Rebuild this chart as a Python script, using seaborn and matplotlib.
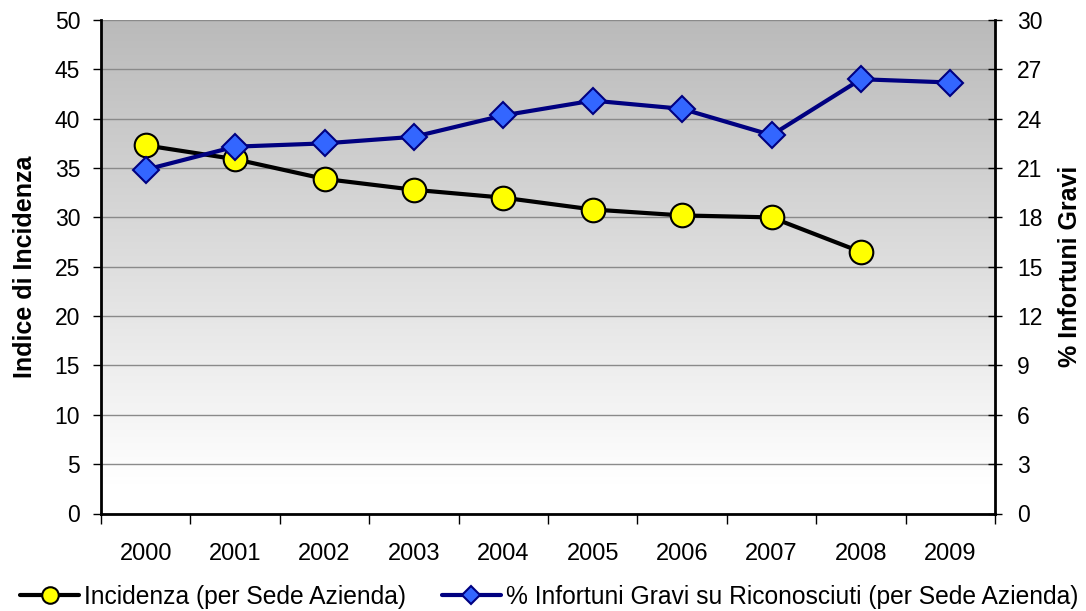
import numpy as np
import pandas as pd
import matplotlib
matplotlib.use("Agg")
import matplotlib.pyplot as plt
import seaborn as sns
from matplotlib.ticker import MultipleLocator, FixedLocator

# ---- data ----
years = [2000, 2001, 2002, 2003, 2004, 2005, 2006, 2007, 2008, 2009]
inc_years = [2000, 2001, 2002, 2003, 2004, 2005, 2006, 2007, 2008]
incidenza = [37.3, 35.9, 33.9, 32.8, 32.0, 30.8, 30.2, 30.0, 26.5]
perc_gravi = [20.9, 22.3, 22.5, 22.9, 24.2, 25.1, 24.6, 23.0, 26.4, 26.2]

label_inc = "Incidenza (per Sede Azienda)"
label_gravi = "% Infortuni Gravi su Riconosciuti (per Sede Azienda)"
ylabel_left = "Indice di Incidenza"
ylabel_right = "% Infortuni Gravi"

df_inc = pd.DataFrame({"anno": inc_years, "valore": incidenza})
df_gravi = pd.DataFrame({"anno": years, "valore": perc_gravi})

sns.set_theme(style="white")
plt.rcParams["font.family"] = ["Liberation Sans", "DejaVu Sans"]
plt.rcParams.update({"text.color": "black", "axes.labelcolor": "black",
                     "xtick.color": "black", "ytick.color": "black",
                     "xtick.labelcolor": "black", "ytick.labelcolor": "black"})

fig = plt.figure(figsize=(10.86, 6.11), dpi=100)
ax = fig.add_axes([101 / 1086, 1 - 513.5 / 611, (995 - 101) / 1086, (513.5 - 20) / 611])
ax2 = ax.twinx()

# gradient background
grad = np.linspace(0, 1, 256).reshape(-1, 1)
cmap = matplotlib.colors.LinearSegmentedColormap.from_list(
    "g", [(0.0, "#ffffff"), (0.06, "#ffffff"), (1.0, "#bababa")], N=256)
ax.imshow(grad, cmap=cmap, extent=[0, 1, 0, 1], transform=ax.transAxes,
          aspect="auto", zorder=0, origin="lower")

ax.set_xlim(1999.5, 2009.5)
ax.set_ylim(0, 50)
ax2.set_ylim(0, 30)

ax.yaxis.set_major_locator(MultipleLocator(5))
ax2.yaxis.set_major_locator(MultipleLocator(3))
ax.grid(axis="y", color="#8a8a8a", linewidth=1.0, zorder=1)
ax.set_axisbelow(True)

sns.lineplot(data=df_inc, x="anno", y="valore", ax=ax, color="black", linewidth=3,
             marker="o", markersize=17, markerfacecolor="#ffff00",
             markeredgecolor="black", markeredgewidth=1.5, label=label_inc, zorder=3,
             legend=False)
sns.lineplot(data=df_gravi, x="anno", y="valore", ax=ax2, color="#000080", linewidth=3,
             marker="D", markersize=13, markerfacecolor="#3366ff",
             markeredgecolor="#000080", markeredgewidth=1.5, label=label_gravi, zorder=3,
             legend=False)

ax.set_xticks(years)
ax.set_xticklabels([str(y) for y in years])
ax.xaxis.set_minor_locator(FixedLocator([y - 0.5 for y in years] + [years[-1] + 0.5]))
ax.tick_params(axis="x", which="major", length=0, pad=21, labelsize=17, labelcolor="black")
ax.tick_params(axis="x", which="minor", bottom=True, length=7, width=1, color="black", direction="out")
ax.tick_params(axis="y", which="major", left=True, length=6, width=1, color="black",
               direction="out", pad=9, labelsize=16.5, labelcolor="black")
ax2.tick_params(axis="y", which="major", right=True, length=10, width=1, color="black",
                direction="inout", pad=11, labelsize=16.5, labelcolor="black")

for a in (ax, ax2):
    for s in a.spines.values():
        s.set_visible(False)
ax.spines["left"].set_visible(True)
ax.spines["bottom"].set_visible(True)
ax2.spines["right"].set_visible(True)
for s in (ax.spines["left"], ax.spines["bottom"], ax2.spines["right"]):
    s.set_color("black")
    s.set_linewidth(2)

ax.set_xlabel("")
ax.set_ylabel(ylabel_left, fontsize=18, fontweight="bold", va="center", ha="center", color="black")
ax2.set_ylabel(ylabel_right, fontsize=18, fontweight="bold", va="center", ha="center", color="black")
ax.yaxis.set_label_coords(-(101 - 25) / 894, 0.5)
ax2.yaxis.set_label_coords(1 + (1070 - 995) / 894, 0.5)

handles = [h for h in ax.get_lines() if h.get_label() == label_inc] + \
          [h for h in ax2.get_lines() if h.get_label() == label_gravi]
leg = fig.legend(handles, [label_inc, label_gravi], loc="center",
                 bbox_to_anchor=(549 / 1086, 1 - 597 / 611),
                 ncol=2, frameon=False, fontsize=17.7, handlelength=2.4, handletextpad=0.2,
                 columnspacing=1.45, numpoints=1, markerscale=0.7,
                 borderaxespad=0, borderpad=0)
for t in leg.get_texts():
    t.set_color("black")

fig.savefig("out.png", dpi=100)
